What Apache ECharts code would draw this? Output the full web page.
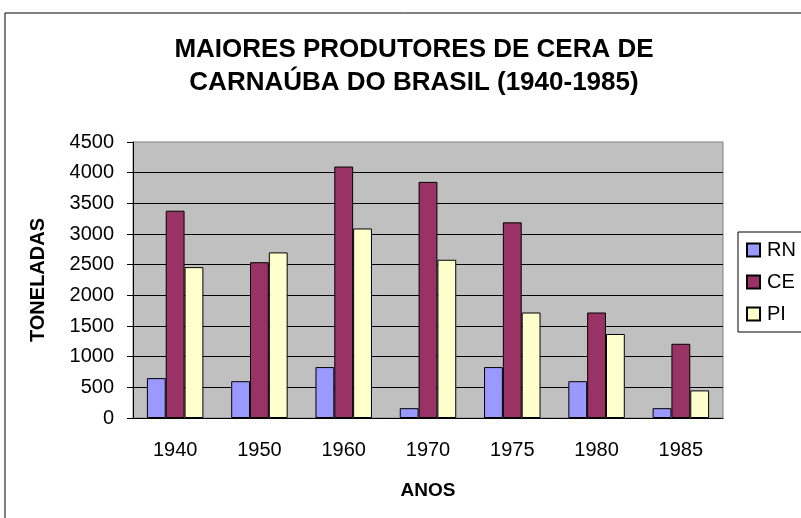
<!DOCTYPE html>
<html>
<head>
<meta charset="utf-8">
<script src="https://cdn.jsdelivr.net/npm/echarts@6/dist/echarts.min.js"></script>
<style>
  html, body { margin: 0; padding: 0; background: #fff; }
  #chart { width: 801px; height: 518px; }
</style>
</head>
<body>
<div id="chart"></div>
<script>
// dados
const anos = ["1940", "1950", "1960", "1970", "1975", "1980", "1985"];
const rn = [650, 600, 830, 160, 830, 600, 160];
const ce = [3380, 2540, 4100, 3850, 3190, 1720, 1210];
const pi = [2460, 2700, 3090, 2580, 1720, 1370, 450];

const fonte = "Liberation Sans, Arial, sans-serif";

const chart = echarts.init(document.getElementById("chart"));

const barra = (name, data, color) => ({
  name,
  type: "bar",
  data,
  barGap: "0%",
  barCategoryGap: "33%",
  itemStyle: { color, borderColor: "#000", borderWidth: 1 },
});

chart.setOption({
  animation: false,
  backgroundColor: "#fff",
  // moldura externa
  graphic: [
    {
      type: "rect",
      shape: { x: 5, y: 13, width: 820, height: 540 },
      style: { fill: "none", stroke: "#000", lineWidth: 1 },
      z: -1,
    },
  ],
  title: {
    text: "MAIORES PRODUTORES DE CERA DE\nCARNAÚBA DO BRASIL (1940-1985)",
    left: 409,
    top: 28,
    textAlign: "center",
    textStyle: { fontFamily: fonte, fontSize: 26, fontWeight: "bold", lineHeight: 33, color: "#000" },
  },
  legend: {
    orient: "vertical",
    left: 738,
    top: 232,
    itemWidth: 13,
    itemHeight: 13,
    itemGap: 12,
    padding: [8, 40, 8, 8],
    backgroundColor: "#fff",
    borderColor: "#000",
    borderWidth: 1,
    borderRadius: 0,
    icon: "rect",
    textStyle: { fontFamily: fonte, fontSize: 20, color: "#000", padding: [0, 0, 0, 2] },
    data: ["RN", "CE", "PI"],
  },
  grid: {
    left: 133,
    right: 78,
    top: 142,
    bottom: 100,
    show: true,
    backgroundColor: "#c0c0c0",
    borderColor: "#808080",
    borderWidth: 1,
  },
  xAxis: {
    type: "category",
    data: anos,
    name: "ANOS",
    nameLocation: "middle",
    nameGap: 63,
    nameTextStyle: { fontFamily: fonte, fontSize: 19, fontWeight: "bold", color: "#000" },
    axisLine: { lineStyle: { color: "#000", width: 1 } },
    axisTick: { length: 6, lineStyle: { color: "#000" } },
    axisLabel: { fontFamily: fonte, fontSize: 20, color: "#000", margin: 22 },
  },
  yAxis: {
    type: "value",
    min: 0,
    max: 4500,
    interval: 500,
    name: "TONELADAS",
    nameLocation: "middle",
    nameGap: 85,
    nameTextStyle: { fontFamily: fonte, fontSize: 20, fontWeight: "bold", color: "#000" },
    axisLine: { show: true, lineStyle: { color: "#000", width: 1 } },
    axisTick: { show: true, length: 6, lineStyle: { color: "#000" } },
    axisLabel: { fontFamily: fonte, fontSize: 20, color: "#000", margin: 19, formatter: (v) => String(v) },
    splitLine: { show: true, showMaxLine: false, lineStyle: { color: "#000", width: 1 } },
  },
  series: [
    barra("RN", rn, "#9999ff"),
    barra("CE", ce, "#993366"),
    barra("PI", pi, "#ffffcc"),
  ],
});
</script>
</body>
</html>
